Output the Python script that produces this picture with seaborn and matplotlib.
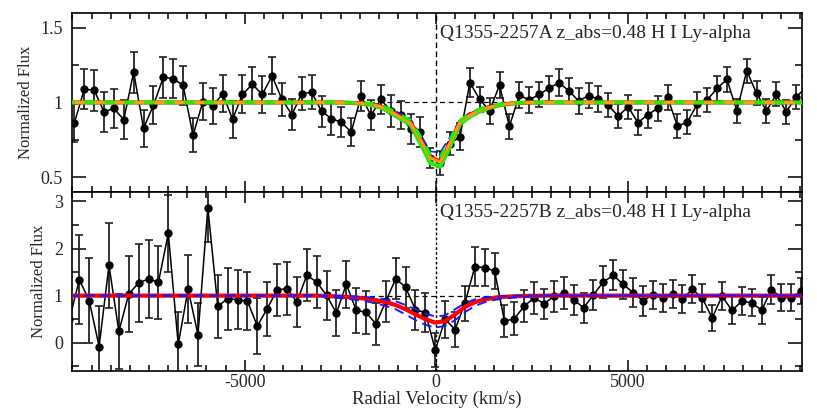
import numpy as np
import pandas as pd
import matplotlib
matplotlib.use("Agg")
import matplotlib.pyplot as plt
import seaborn as sns
from matplotlib.ticker import MultipleLocator, FuncFormatter

sns.set_style("ticks")
plt.rcParams['font.family'] = ['Liberation Serif', 'DejaVu Serif']
plt.rcParams['axes.unicode_minus'] = False

# ---------------- data: top panel (Q1355-2257A) ----------------
vel_a = [-9706, -9448, -9190, -8932, -8674, -8416, -8158, -7900, -7641, -7383,
         -7125, -6867, -6609, -6351, -6093, -5835, -5577, -5318, -5060, -4802,
         -4544, -4286, -4028, -3770, -3512, -3254, -2996, -2737, -2479, -2221,
         -1963, -1705, -1447, -1189, -931, -673, -414, -156, 102, 360,
         618, 876, 1134, 1392, 1650, 1908, 2167, 2425, 2683, 2941,
         3199, 3457, 3715, 3973, 4231, 4489, 4748, 5006, 5264, 5522,
         5780, 6038, 6296, 6554, 6812, 7070, 7329, 7587, 7845, 8103,
         8361, 8619, 8877, 9135, 9393, 9651]
flux_a = [np.nan,
          0.863, 1.088, 1.083, 0.937, 0.960, 0.885, 1.203, 0.827, 0.982, 1.169,
          1.160, 1.115, 0.780, 1.005, 0.975, 1.059, 0.887, 1.054, 1.122, 1.054,
          1.178, 1.020, 0.919, 1.059, 1.068, 0.941, 0.892, 0.867, 0.802, 1.043,
          0.914, 1.020, 0.944, 0.915, 0.820, 0.800, 0.625, 0.595, 0.725, 0.770,
          1.133, 1.020, 0.944, 1.117, 0.840, 1.050, 1.016, 1.054, 1.095, 1.133,
          1.079, 1.011, 1.045, 1.023, 0.982, 0.908, 0.971, 0.865, 0.919, 0.960,
          1.034, 0.840, 0.869, 0.989, 1.016, 1.095, 1.155, 0.944, 1.212, 1.061,
          0.944, 1.054, 0.937, 1.038, 1.100]
err_a = [np.nan,
         0.130, 0.135, 0.138, 0.132, 0.132, 0.132, 0.138, 0.124, 0.126, 0.138,
         0.130, 0.132, 0.115, 0.124, 0.120, 0.126, 0.124, 0.127, 0.118, 0.122,
         0.124, 0.111, 0.105, 0.110, 0.113, 0.105, 0.109, 0.101, 0.097, 0.102,
         0.101, 0.100, 0.106, 0.095, 0.100, 0.100, 0.067, 0.078, 0.078, 0.090,
         0.096, 0.085, 0.085, 0.085, 0.084, 0.085, 0.085, 0.085, 0.085, 0.090,
         0.085, 0.085, 0.085, 0.085, 0.082, 0.082, 0.082, 0.082, 0.087, 0.082,
         0.082, 0.080, 0.079, 0.080, 0.080, 0.082, 0.084, 0.082, 0.081, 0.080,
         0.080, 0.080, 0.079, 0.079, 0.080]
model_red_a = [1.0] * 29 + [0.998, 0.995, 0.990, 0.975, 0.945, 0.905, 0.870, 0.755, 0.635,
                            0.605, 0.735, 0.870, 0.920, 0.950, 0.970, 0.985, 0.993, 0.997] + [1.0] * 29
model_orange_a = [1.0] * 29 + [0.997, 0.994, 0.988, 0.972, 0.940, 0.900, 0.862, 0.750, 0.628,
                               0.600, 0.730, 0.865, 0.915, 0.947, 0.968, 0.984, 0.992, 0.997] + [1.0] * 29
model_bhi_a = [1.0] * 29 + [1.000, 0.998, 0.995, 0.985, 0.958, 0.925, 0.890, 0.785, 0.672,
                            0.665, 0.770, 0.885, 0.930, 0.960, 0.978, 0.990, 0.996, 0.999] + [1.0] * 29
model_blo_a = [1.0] * 29 + [0.996, 0.990, 0.982, 0.962, 0.925, 0.882, 0.840, 0.715, 0.585,
                            0.560, 0.695, 0.850, 0.900, 0.938, 0.962, 0.980, 0.990, 0.995] + [1.0] * 29
model_g1_a = [1.0] * 29 + [0.997, 0.992, 0.984, 0.965, 0.930, 0.890, 0.850, 0.725, 0.595,
                           0.570, 0.705, 0.855, 0.905, 0.940, 0.964, 0.981, 0.990, 0.996] + [1.0] * 29
model_g2_a = [1.0] * 29 + [0.999, 0.997, 0.993, 0.980, 0.952, 0.915, 0.880, 0.770, 0.650,
                           0.630, 0.750, 0.878, 0.925, 0.955, 0.975, 0.988, 0.995, 0.998] + [1.0] * 29

# ---------------- data: bottom panel (Q1355-2257B) ----------------
vel_b = [-9576, -9318, -9060, -8802, -8544, -8286, -8028, -7770, -7511, -7253,
         -6995, -6737, -6479, -6221, -5963, -5705, -5447, -5188, -4930, -4672,
         -4414, -4156, -3898, -3640, -3382, -3124, -2866, -2607, -2349, -2091,
         -1833, -1575, -1317, -1059, -801, -543, -284, -26, 232, 490,
         748, 1006, 1264, 1522, 1780, 2038, 2297, 2555, 2813, 3071,
         3329, 3587, 3845, 4103, 4361, 4619, 4878, 5136, 5394, 5652,
         5910, 6168, 6426, 6684, 6942, 7200, 7459, 7717, 7975, 8233,
         8491, 8749, 9007, 9265, 9523, 9781]
flux_b = [0.50,
          1.340, 0.894, -0.080, 1.645, 0.240, 1.035, 1.270, 1.355, 1.284, 2.320,
          -0.035, 1.135, 0.170, 2.870, 0.773, 0.936, 0.915, 0.880, 0.355, 0.723,
          1.120, 1.150, 0.865, 1.430, 1.290, 1.007, 0.630, 1.245, 0.690, 0.645,
          0.395, 0.880, 1.360, 1.175, 0.700, 0.640, -0.155, 0.500, 0.280, 0.840,
          1.615, 1.595, 1.520, 0.457, 0.510, 0.780, 0.950, 0.830, 0.986, 1.057,
          0.915, 0.740, 1.020, 1.290, 1.430, 1.240, 1.064, 0.887, 1.020, 0.950,
          1.030, 0.936, 1.135, 0.950, 0.525, 0.986, 0.688, 0.880, 0.850, 0.688,
          1.128, 0.957, 0.957, 1.092, 1.200]
err_b = [0.90,
         0.95, 0.90, 0.86, 0.90, 0.80, 0.81, 0.83, 0.82, 0.77, 0.81,
         0.69, 0.72, 0.67, 0.73, 0.67, 0.66, 0.63, 0.62, 0.585, 0.57,
         0.55, 0.57, 0.535, 0.55, 0.55, 0.52, 0.49, 0.50, 0.475, 0.46,
         0.44, 0.44, 0.44, 0.44, 0.43, 0.41, 0.37, 0.39, 0.37, 0.37,
         0.41, 0.40, 0.38, 0.34, 0.355, 0.34, 0.34, 0.32, 0.33, 0.34,
         0.32, 0.32, 0.32, 0.33, 0.32, 0.31, 0.31, 0.31, 0.30, 0.30,
         0.30, 0.30, 0.30, 0.30, 0.28, 0.30, 0.30, 0.30, 0.29, 0.29,
         0.30, 0.29, 0.29, 0.28, 0.28]
model_red_b = [1.0] * 26 + [0.992, 0.984, 0.972, 0.955, 0.935, 0.905, 0.860, 0.800, 0.710, 0.600, 0.500,
                            0.425, 0.460, 0.600, 0.760, 0.860, 0.920, 0.955, 0.975, 0.986, 0.992, 0.996] + [1.0] * 28
model_blo_b = [1.0] * 26 + [0.980, 0.955, 0.935, 0.910, 0.880, 0.840, 0.775, 0.710, 0.600, 0.480, 0.380,
                            0.320, 0.360, 0.480, 0.650, 0.780, 0.860, 0.910, 0.940, 0.960, 0.975, 0.985] + [1.0] * 28
model_bhi_b = [1.0] * 26 + [0.998, 0.995, 0.990, 0.982, 0.970, 0.952, 0.920, 0.880, 0.800, 0.710, 0.620,
                            0.555, 0.580, 0.710, 0.840, 0.920, 0.960, 0.980, 0.990, 0.995, 0.998, 1.000] + [1.0] * 28

label_a = "Q1355-2257A z_abs=0.48 H I Ly-alpha"
label_b = "Q1355-2257B z_abs=0.48 H I Ly-alpha"

df_a = pd.DataFrame({"v": vel_a, "f": flux_a, "e": err_a, "red": model_red_a,
                     "orange": model_orange_a, "bhi": model_bhi_a, "blo": model_blo_a,
                     "g1": model_g1_a, "g2": model_g2_a})
df_b = pd.DataFrame({"v": vel_b, "f": flux_b, "e": err_b, "red": model_red_b,
                     "bhi": model_bhi_b, "blo": model_blo_b})

fig = plt.figure(figsize=(8.17, 4.09), dpi=100)
ax1 = fig.add_axes([0.0881, 0.5306, 0.8935, 0.4377])
ax2 = fig.add_axes([0.0881, 0.0929, 0.8935, 0.4377], sharex=ax1)

def draw_data(ax, df):
    ax.errorbar(df["v"], df["f"], yerr=df["e"], fmt="none", ecolor="#222222",
                elinewidth=1.3, capsize=3, capthick=1.2, zorder=2)
    d = df.dropna(subset=["f"])
    sns.lineplot(data=d, x="v", y="f", ax=ax, color="black", lw=1.1, marker="o",
                 markersize=6, markeredgewidth=0, sort=False, estimator=None, zorder=3)

# top panel
ax1.axhline(1.0, color="black", ls=(0, (4, 3)), lw=0.9, zorder=1)
ax1.axvline(0.0, color="black", ls=(0, (4, 2.5)), lw=1.0, zorder=1)
draw_data(ax1, df_a)
sns.lineplot(data=df_a, x="v", y="bhi", ax=ax1, color="#1a1aff", lw=1.2, ls=(0, (5, 3)), sort=False, estimator=None, zorder=4)
sns.lineplot(data=df_a, x="v", y="blo", ax=ax1, color="#1a1aff", lw=1.2, ls=(0, (5, 3)), sort=False, estimator=None, zorder=4)
sns.lineplot(data=df_a, x="v", y="g1", ax=ax1, color="#22ee00", lw=3.0, sort=False, estimator=None, zorder=5)
sns.lineplot(data=df_a, x="v", y="red", ax=ax1, color="#ff0000", lw=2.6, sort=False, estimator=None, zorder=6)
sns.lineplot(data=df_a, x="v", y="orange", ax=ax1, color="#ff9a1a", lw=2.2, sort=False, estimator=None, zorder=7)
sns.lineplot(data=df_a, x="v", y="g2", ax=ax1, color="#22ee00", lw=2.4, ls=(0, (3, 3)), sort=False, estimator=None, zorder=8)
ax1.text(100, 1.46, label_a, fontsize=14, ha="left", va="center", zorder=10)

# bottom panel
ax2.axhline(1.0, color="black", ls=(0, (4, 3)), lw=0.9, zorder=1)
ax2.axvline(0.0, color="black", ls=(0, (2, 1.5)), lw=1.0, zorder=1)
draw_data(ax2, df_b)
sns.lineplot(data=df_b, x="v", y="red", ax=ax2, color="#ff0000", lw=3.0, sort=False, estimator=None, zorder=5)
sns.lineplot(data=df_b, x="v", y="bhi", ax=ax2, color="#1a1aff", lw=1.4, ls=(0, (5, 3)), sort=False, estimator=None, zorder=6)
sns.lineplot(data=df_b, x="v", y="blo", ax=ax2, color="#1a1aff", lw=1.4, ls=(0, (5, 3)), sort=False, estimator=None, zorder=6)
ax2.text(100, 2.77, label_b, fontsize=14, ha="left", va="center", zorder=10)

fmt = FuncFormatter(lambda val, pos: "%g" % val)
ax1.set_xlim(-9510, 9545)
ax1.set_ylim(0.4, 1.6)
ax2.set_ylim(-0.6, 3.2)
for ax in (ax1, ax2):
    ax.xaxis.set_major_locator(MultipleLocator(5000))
    ax.xaxis.set_minor_locator(MultipleLocator(500))
    ax.yaxis.set_major_formatter(fmt)
    ax.xaxis.set_major_formatter(fmt)
    ax.tick_params(axis="both", which="both", direction="in", top=True, right=True,
                   labelsize=13, width=1.1, color="black")
    ax.tick_params(axis="y", which="major", length=10, pad=6.5)
    ax.tick_params(axis="y", which="minor", length=5)
    ax.tick_params(axis="x", which="major", length=8, pad=2)
    ax.tick_params(axis="x", which="minor", length=4.5)
    for s in ax.spines.values():
        s.set_linewidth(1.2)
        s.set_color("black")
    ax.set_ylabel("Normalized Flux", fontsize=12, labelpad=5)
ax1.yaxis.set_major_locator(MultipleLocator(0.5))
ax1.yaxis.set_minor_locator(MultipleLocator(0.25))
ax2.yaxis.set_major_locator(MultipleLocator(1))
ax2.yaxis.set_minor_locator(MultipleLocator(0.5))
ax1.tick_params(axis="x", labelbottom=False)
ax1.set_xlabel("")
ax2.set_xlabel("Radial Velocity (km/s)", fontsize=13.5)
ax2.xaxis.label.set_va("baseline")
ax2.xaxis.set_label_coords(0.5, (371 - 404.0) / 179.0)

fig.savefig("out.png", dpi=100)
